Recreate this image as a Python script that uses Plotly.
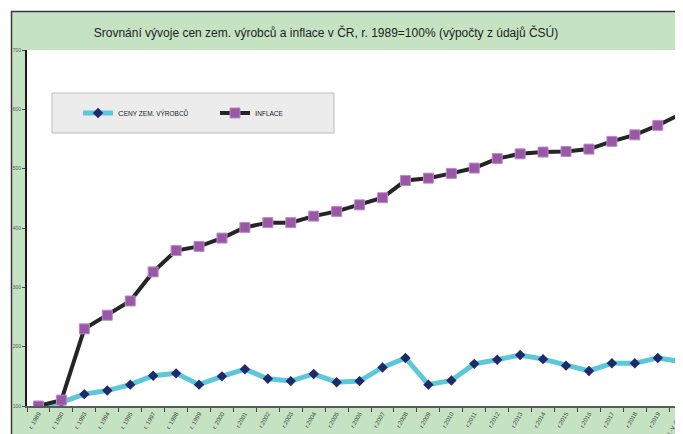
import plotly.graph_objects as go

# Data (1989 = 100)
roky = ["r. 1989", "r. 1990", "r. 1993", "r. 1994", "r. 1995", "r. 1997", "r. 1998",
        "r. 1999", "r. 2000", "r.2001", "r.2002", "r.2003", "r.2004", "r.2005",
        "r.2006", "r.2007", "r.2008", "r.2009", "r.2010", "r.2011", "r.2012",
        "r.2013", "r.2014", "r.2015", "r.2016", "r.2017", "r.2018", "r.2019",
        "I.-V. Q 20"]
ceny_zem = [100, 106, 120, 126, 136, 151, 155, 136, 150, 162, 146, 142, 154, 140,
            142, 165, 181, 136, 143, 171, 178, 186, 179, 168, 159, 172, 172, 181, 175]
inflace = [100, 110, 230, 253, 277, 326, 362, 369, 383, 401, 409, 409, 420, 428,
           439, 451, 480, 484, 492, 501, 517, 525, 528, 529, 533, 546, 557, 573, 592]
y_ticks = [100, 200, 300, 400, 500, 600, 700]

# the page body adds an 8 px margin, so the figure is laid out in screen pixels minus 8
OFF = 8
W, H = 683 - OFF, 434 - OFF
L, R, T, B = 27 - OFF, 0, 50 - OFF, 434 - 406
green = "#c5e3c3"

def px_x(p):
    return (p - OFF - L) / (W - L - R)

def px_y(p):
    return (H - B - (p - OFF)) / (H - T - B)

fig = go.Figure()

fig.add_trace(go.Scatter(
    x=roky, y=ceny_zem, mode="lines+markers",
    name="C<span style='font-size:6.5px'>ENY ZEM. VÝROBCŮ</span>",
    line=dict(color="#5cc7d8", width=5),
    marker=dict(symbol="diamond", size=8, color="#1f2a6c"),
))
fig.add_trace(go.Scatter(
    x=roky, y=inflace, mode="lines+markers",
    name="I<span style='font-size:6.5px'>NFLACE</span>",
    line=dict(color="#252525", width=4),
    marker=dict(symbol="square", size=10, color="#9b57a7",
                line=dict(color="#b98bc3", width=1)),
))

shapes = [
    # white margin strips outside the green chart frame
    dict(type="rect", xref="paper", yref="paper", x0=px_x(OFF), x1=px_x(683), y0=px_y(11), y1=px_y(OFF),
         fillcolor="white", line=dict(width=0), layer="below"),
    dict(type="rect", xref="paper", yref="paper", x0=px_x(OFF), x1=px_x(11), y0=px_y(434), y1=px_y(OFF),
         fillcolor="white", line=dict(width=0), layer="below"),
    dict(type="line", xref="paper", yref="paper", x0=px_x(11), x1=px_x(683), y0=px_y(11.5), y1=px_y(11.5),
         line=dict(color="#3a3a3a", width=1.5)),
    dict(type="line", xref="paper", yref="paper", x0=px_x(11.5), x1=px_x(11.5), y0=px_y(434), y1=px_y(11),
         line=dict(color="#3a3a3a", width=1.5)),
    # legend box
    dict(type="rect", xref="paper", yref="paper", x0=px_x(52), x1=px_x(334), y0=px_y(133), y1=px_y(93),
         fillcolor="#ececec", line=dict(color="#bdbdbd", width=1), layer="below"),
]

fig.update_layout(
    width=W, height=H,
    margin=dict(l=L, r=R, t=T, b=B, autoexpand=False),
    paper_bgcolor=green,
    plot_bgcolor="white",
    font=dict(family="Liberation Sans, Arial, sans-serif", color="#333"),
    title=dict(text="Srovnání vývoje cen zem. výrobců a inflace v ČR, r. 1989=100% (výpočty z údajů ČSÚ)",
               x=(326 - OFF) / W, xanchor="center", y=1 - (33 - OFF) / H, yanchor="middle",
               font=dict(size=12, color="#222")),
    showlegend=True,
    legend=dict(orientation="h", x=px_x(78), xanchor="left", y=px_y(113), yanchor="middle",
                bgcolor="rgba(0,0,0,0)", font=dict(size=8, color="#222"),
                itemwidth=30, entrywidth=92, entrywidthmode="pixels"),
    shapes=shapes,
)

fig.update_xaxes(
    type="category", range=[-0.5, 28.1], automargin=False,
    showline=True, linecolor="#5a5a5a", linewidth=2,
    ticks="outside", tickson="boundaries", ticklen=4, tickcolor="#444",
    tickangle=-60, tickfont=dict(size=6, color="#444"),
    showgrid=False, zeroline=False,
)
fig.update_yaxes(
    range=[100, 700], tickvals=y_ticks, automargin=False,
    showline=True, linecolor="#1a1a1a", linewidth=2,
    ticks="outside", ticklen=3, tickcolor="#444",
    tickfont=dict(size=5, color="#555"),
    showgrid=False, zeroline=False,
)

fig.write_html("out.html")
